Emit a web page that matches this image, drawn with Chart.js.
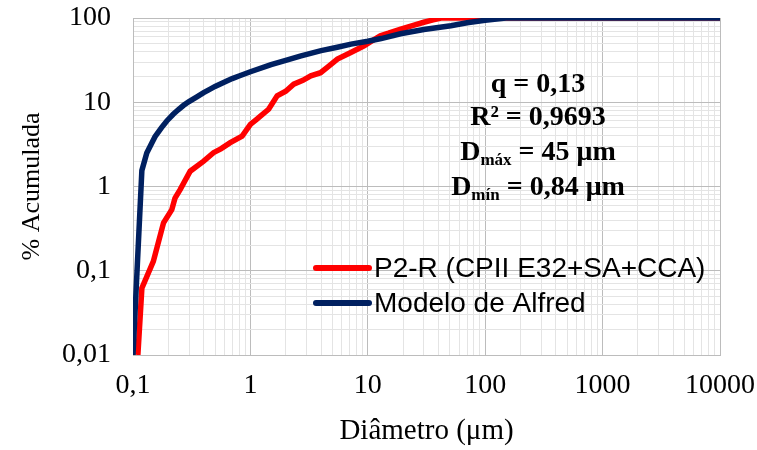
<!DOCTYPE html>
<html>
<head>
<meta charset="utf-8">
<script src="https://cdn.jsdelivr.net/npm/chart.js@4.4.1/dist/chart.umd.min.js"></script>
<style>
  html, body { margin: 0; padding: 0; background: #fff; }
  #wrap { width: 757px; height: 450px; }
</style>
</head>
<body>
<div id="wrap"><canvas id="granChart" width="757" height="450"></canvas></div>
<script>
// series (log-log, diameter in um vs cumulative %)
var seriesNames = ['P2-R (CPII E32+SA+CCA)', 'Modelo de Alfred'];

var redX = [0.11, 0.119, 0.149, 0.182, 0.214, 0.228, 0.252, 0.307, 0.4, 0.485, 0.56, 0.674, 0.85, 1.0, 1.13, 1.21, 1.43, 1.69, 2.0, 2.34, 2.8, 3.27, 3.96, 4.6, 5.51, 7.17, 9.3, 10.5, 12.8, 15, 19.1, 24, 30, 36, 42, 45, 10000];
var redY = [0.01, 0.062, 0.129, 0.37, 0.53, 0.73, 0.92, 1.52, 2.0, 2.52, 2.8, 3.31, 3.97, 5.47, 6.28, 6.8, 8.26, 11.9, 13.5, 16.4, 18.2, 20.6, 22.4, 26.5, 32.5, 39, 46.8, 52, 61.6, 66, 74, 81, 89, 95, 100, 100, 100];

var blueX = [0.1, 0.119, 0.131, 0.145, 0.154, 0.175, 0.194, 0.22, 0.244, 0.27, 0.3, 0.35, 0.4, 0.45, 0.5, 0.61, 0.7, 0.8, 1.0, 1.5, 2.0, 2.7, 4, 5.5, 7.2, 10, 13, 19, 30, 51, 70, 100, 150, 10000];
var blueY = [0.01, 1.55, 2.5, 3.3, 3.9, 5.0, 6.0, 7.2, 8.2, 9.2, 10.2, 11.6, 13, 14.2, 15.4, 17.5, 19.1, 20.5, 23, 28, 31.5, 35.5, 41, 45, 49, 53, 57, 65, 73, 81, 88, 94, 100, 100];

var xTickLabels = [0.1, 1, 10, 100, 1000, 10000];
var yTickLabels = [0.01, 0.1, 1, 10, 100];

var fitText = [
    { main: 'q = 0,13' },
    { main: 'R² = 0,9693' },
    { main: 'D', sub: 'máx', rest: ' = 45 μm' },
    { main: 'D', sub: 'mín', rest: ' = 0,84 μm' }
];

function toPoints(xs, ys) {
    return xs.map(function (x, i) { return { x: x, y: ys[i] }; });
}

function isDecade(v) {
    var l = Math.log10(v);
    return Math.abs(l - Math.round(l)) < 1e-9;
}

function logTicks(labels) {
    var ticks = [];
    var lo = Math.round(Math.log10(labels[0]));
    var hi = Math.round(Math.log10(labels[labels.length - 1]));
    for (var e = lo; e < hi; e++) {
        for (var m = 1; m <= 9; m++) {
            ticks.push({ value: parseFloat((m * Math.pow(10, e)).toPrecision(3)) });
        }
    }
    ticks.push({ value: labels[labels.length - 1] });
    return ticks;
}

function tickText(value) {
    return isDecade(value) ? String(value).replace('.', ',') : '';
}

function gridColor(ctx) {
    return ctx.tick && isDecade(ctx.tick.value) ? '#bcbcbc' : '#e4e4e4';
}

var serif = "'Liberation Serif', 'Times New Roman', serif";

var overlayPlugin = {
    id: 'overlay',
    afterDraw: function (chart) {
        var c = chart.ctx;
        c.save();
        // legend inside plot
        var legendRows = [
            { label: seriesNames[0], color: '#ff0000', y: 268 },
            { label: seriesNames[1], color: '#002060', y: 303 }
        ];
        c.lineCap = 'round';
        c.lineWidth = 6;
        c.font = "28px 'Liberation Sans', Arial, sans-serif";
        c.textBaseline = 'middle';
        c.textAlign = 'left';
        legendRows.forEach(function (r) {
            c.strokeStyle = r.color;
            c.beginPath();
            c.moveTo(316, r.y);
            c.lineTo(369, r.y);
            c.stroke();
            c.fillStyle = '#000';
            c.fillText(r.label, 374, r.y + 1);
        });

        // fit statistics
        var cx = 538;
        var baselines = [92, 125, 160, 195];
        var mainFont = 'bold 28px ' + serif;
        var subFont = 'bold 17px ' + serif;
        c.textBaseline = 'alphabetic';
        c.fillStyle = '#000';
        fitText.forEach(function (t, i) {
            c.font = mainFont;
            var w1 = c.measureText(t.main).width;
            var w3 = t.rest ? c.measureText(t.rest).width : 0;
            c.font = subFont;
            var w2 = t.sub ? c.measureText(t.sub).width : 0;
            var x = cx - (w1 + w2 + w3) / 2;
            var y = baselines[i];
            c.font = mainFont;
            c.fillText(t.main, x, y);
            if (t.sub) {
                c.font = subFont;
                c.fillText(t.sub, x + w1, y + 5);
                c.font = mainFont;
                c.fillText(t.rest, x + w1 + w2, y);
            }
        });
        c.restore();
    }
};

var ctx = document.getElementById('granChart').getContext('2d');
var granChart = new Chart(ctx, {
    type: 'line',
    data: {
        datasets: [{
            label: seriesNames[1],
            data: toPoints(blueX, blueY),
            borderColor: '#002060',
            borderWidth: 5.5,
            pointRadius: 0,
            tension: 0,
            fill: false
        }, {
            label: seriesNames[0],
            data: toPoints(redX, redY),
            borderColor: '#ff0000',
            borderWidth: 5.5,
            pointRadius: 0,
            tension: 0,
            fill: false
        }]
    },
    options: {
        responsive: false,
        animation: false,
        layout: { padding: { top: 18, right: 37, left: 0, bottom: 0 } },
        plugins: {
            legend: { display: false },
            tooltip: { enabled: false }
        },
        scales: {
            x: {
                type: 'logarithmic',
                min: 0.1,
                max: 10000,
                afterBuildTicks: function (scale) { scale.ticks = logTicks(xTickLabels); },
                afterFit: function (scale) {
                    scale.height = 95;
                    scale.paddingLeft = 0;
                    scale.paddingRight = 0;
                },
                grid: { color: gridColor, drawTicks: false },
                border: { color: '#bcbcbc' },
                ticks: {
                    autoSkip: false,
                    maxRotation: 0,
                    padding: 14,
                    color: '#000',
                    font: { family: serif, size: 28 },
                    callback: function (v) { return tickText(v); }
                },
                title: {
                    display: true,
                    text: 'Diâmetro (μm)',
                    color: '#000',
                    font: { family: serif, size: 29 },
                    padding: { top: 0, bottom: 1 }
                }
            },
            y: {
                type: 'logarithmic',
                min: 0.01,
                max: 100,
                afterBuildTicks: function (scale) { scale.ticks = logTicks(yTickLabels); },
                afterFit: function (scale) {
                    scale.width = 133;
                    scale.paddingTop = 0;
                    scale.paddingBottom = 0;
                },
                grid: { color: gridColor, drawTicks: false },
                border: { color: '#bcbcbc' },
                ticks: {
                    autoSkip: false,
                    padding: 22,
                    color: '#000',
                    font: { family: serif, size: 28 },
                    callback: function (v) { return tickText(v); }
                },
                title: {
                    display: true,
                    text: '% Acumulada',
                    color: '#000',
                    font: { family: serif, size: 26 },
                    padding: { top: 17, bottom: 0 }
                }
            }
        }
    },
    plugins: [overlayPlugin]
});
</script>
</body>
</html>
